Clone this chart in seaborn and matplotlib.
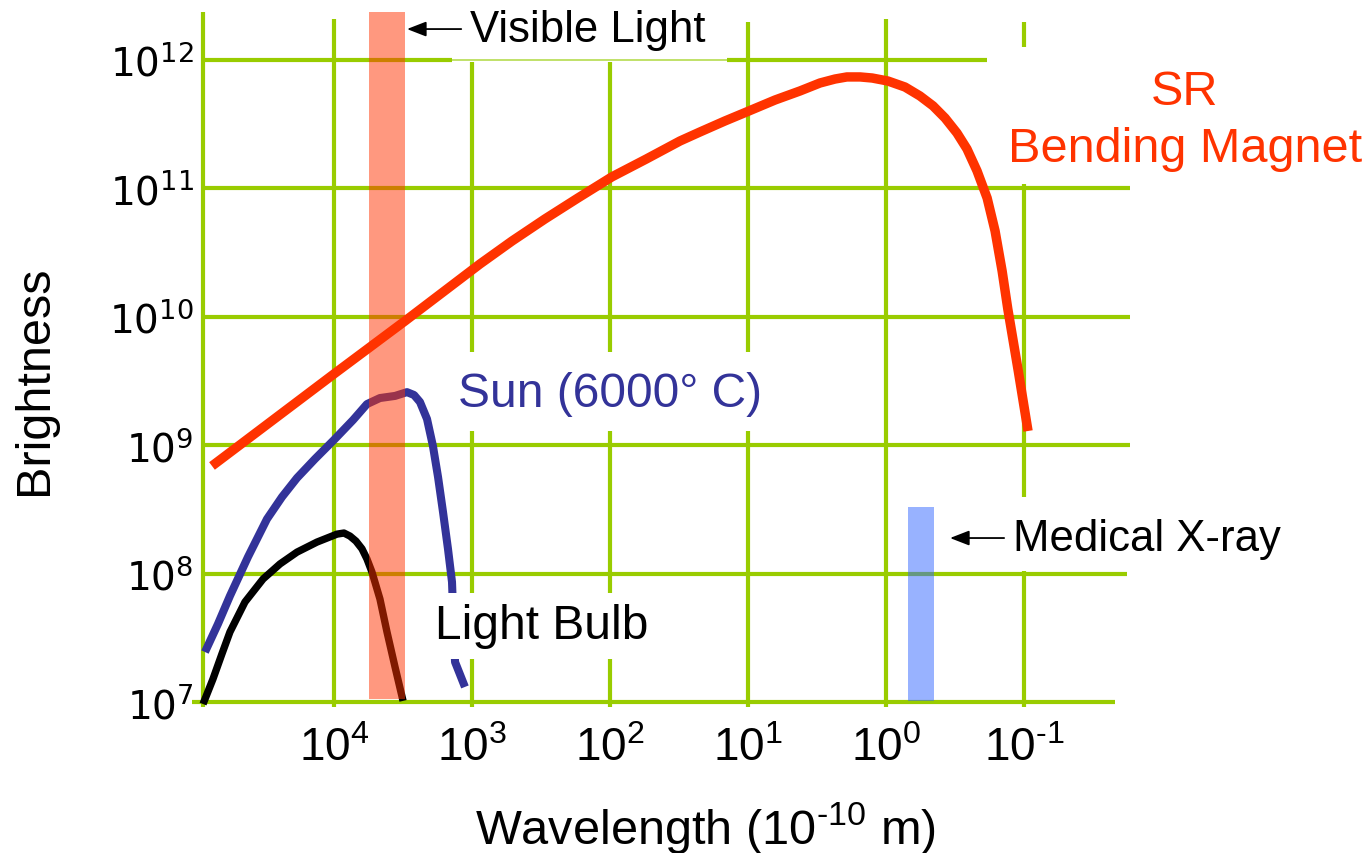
import numpy as np
import pandas as pd
import matplotlib
matplotlib.use("Agg")
import matplotlib.pyplot as plt
import seaborn as sns

# ---------------- data (wavelength in 1e-10 m, brightness) ----------------
sr_wavelength = [76560, 10000, 3061, 875, 513, 296, 171, 96.8, 54.8, 31.1, 22.3,
                 14.7, 9.84, 6.37, 4.20, 3.01, 2.34, 1.92, 1.54, 1.26, 0.968,
                 0.728, 0.568, 0.456, 0.373, 0.306, 0.259, 0.219, 0.185, 0.162,
                 0.144, 0.131, 0.110, 0.0935]
sr_brightness = [6.89e8, 3.59e9, 9.27e9, 2.58e10, 3.89e10, 5.78e10, 8.41e10,
                 1.23e11, 1.69e11, 2.34e11, 2.75e11, 3.35e11, 4.01e11, 4.88e11,
                 5.74e11, 6.62e11, 7.11e11, 7.38e11, 7.38e11, 7.24e11, 6.86e11,
                 6.16e11, 5.25e11, 4.39e11, 3.53e11, 2.70e11, 2.03e11, 1.37e11,
                 8.42e10, 4.66e10, 2.27e10, 1.15e10, 3.78e9, 1.29e9]

sun_wavelength = [86100, 69340, 56750, 41980, 30600, 23820, 18530, 13740, 10000,
                  7280, 5770, 4645, 3610, 2958, 2630, 2382, 2118, 1919, 1762,
                  1622, 1493, 1396, 1327, 1125]
sun_brightness = [2.45e7, 4.05e7, 6.70e7, 1.35e8, 2.66e8, 3.95e8, 5.56e8, 7.81e8,
                  1.10e9, 1.57e9, 2.09e9, 2.33e9, 2.42e9, 2.59e9, 2.46e9, 2.17e9,
                  1.60e9, 9.86e8, 5.65e8, 3.02e8, 1.56e8, 8.61e7, 2.05e7, 1.31e7]

bulb_wavelength = [88920, 75340, 64860, 56750, 44160, 32660, 24600, 18530, 13280,
                   9510, 8470, 7660, 6930, 6270, 5770, 5310, 4645, 4130, 3610, 3160]
bulb_brightness = [9.64e6, 1.51e7, 2.37e7, 3.51e7, 6.01e7, 9.08e7, 1.19e8, 1.47e8,
                   1.76e8, 2.03e8, 2.07e8, 1.96e8, 1.79e8, 1.56e8, 1.30e8, 1.03e8,
                   6.34e7, 3.51e7, 1.87e7, 1.02e7]

visible_band = (5570, 3060)          # wavelength range of visible-light band
visible_height = (1.05e7, 2.37e12)
xray_band = (0.693, 0.449)           # wavelength range of medical x-ray band
xray_height = (1.02e7, 3.3e8)

x_ticks = [1e4, 1e3, 1e2, 1e1, 1e0, 1e-1]
x_tick_labels = ["4", "3", "2", "1", "0", "-1"]
y_ticks = [1e7, 1e8, 1e9, 1e10, 1e11, 1e12]
y_tick_labels = ["7", "8", "9", "10", "11", "12"]

# ---------------- style ----------------
sns.set_theme(style="white")
plt.rcParams["font.family"] = ["Liberation Sans", "DejaVu Sans"]
plt.rcParams["mathtext.fontset"] = "custom"
plt.rcParams["mathtext.rm"] = "Liberation Sans"
plt.rcParams["axes.unicode_minus"] = False

GREEN = "#99CC00"
RED = "#FF3300"
BLUE = "#333399"

fig = plt.figure(figsize=(13.72, 8.54), dpi=100)
ax = fig.add_axes([0.14431, 0.16628, 0.68659, 0.83372])
ax.set_xscale("log")
ax.set_yscale("log")
ax.set_xlim(10**4.9855, 10**-1.8406)
ax.set_ylim(10**6.9299, 10**12.4751)
for s in ax.spines.values():
    s.set_visible(False)
ax.grid(False)
ax.set_facecolor("white")

# ---------------- grid (drawn as segments, like the original) ----------------
E = lambda e: 10**e
hsegs = [
    (12, 4.949, 3.145), (12, 1.152, -0.732),
    (11, 4.949, -1.768), (10, 4.949, -1.768), (9, 4.949, -1.768),
    (8, 4.949, -1.746), (7, 5.029, -1.659),
]
for yy, x0, x1 in hsegs:
    ax.hlines(E(yy), E(x0), E(x1), color=GREEN, lw=3.0, zorder=1, clip_on=False)
ax.hlines(E(12), E(3.145), E(1.152), color="#b5dc4f", lw=1.2, zorder=1)

vsegs = [
    (4.949, 12.374, 6.961), (4.0, 12.319, 6.961),
    (3.0, 11.984, 9.726), (3.0, 9.111, 6.961),
    (2.0, 11.984, 9.726), (2.0, 9.111, 6.961),
    (1.0, 12.296, 9.726), (1.0, 9.111, 6.961),
    (0.0, 12.319, 6.961),
    (-1.0, 12.296, 12.101), (-1.0, 11.034, 8.597), (-1.0, 8.020, 6.961),
]
for xx, y0, y1 in vsegs:
    ax.vlines(E(xx), E(y0), E(y1), color=GREEN, lw=3.0, zorder=1, clip_on=False)

# ---------------- curves ----------------
sr = pd.DataFrame({"wavelength": sr_wavelength, "brightness": sr_brightness})
sun = pd.DataFrame({"wavelength": sun_wavelength, "brightness": sun_brightness})
bulb = pd.DataFrame({"wavelength": bulb_wavelength, "brightness": bulb_brightness})

common = dict(sort=False, estimator=None, zorder=3, solid_capstyle="butt",
              solid_joinstyle="round")
sns.lineplot(data=sr, x="wavelength", y="brightness", ax=ax, color=RED, lw=6.8, **common)
sns.lineplot(data=sun, x="wavelength", y="brightness", ax=ax, color=BLUE, lw=5.8, **common)
sns.lineplot(data=bulb, x="wavelength", y="brightness", ax=ax, color="black", lw=5.3, **common)

# ---------------- bands ----------------
ax.fill_between(list(visible_band), visible_height[0], visible_height[1],
                color=RED, alpha=0.5, lw=0, zorder=4)
ax.fill_between(list(xray_band), xray_height[0], xray_height[1],
                color="#3366FF", alpha=0.5, lw=0, zorder=4)

# ---------------- ticks ----------------
ax.set_xticks(x_ticks)
ax.set_xticklabels([r"$\mathregular{10^{\text{%s}}}$" % t for t in x_tick_labels],
                   fontsize=33, color="black")
ax.set_yticks(y_ticks)
ax.set_yticklabels([r"$\mathregular{10^{%s}}$" % t for t in y_tick_labels],
                   fontsize=28, color="black", fontfamily="DejaVu Sans")
ax.minorticks_off()
ax.tick_params(axis="x", length=0, pad=11)
ax.tick_params(axis="y", length=0, pad=3)

ax.set_xlabel(r"Wavelength ($\mathregular{10^{\text{-10}}}$ m)", fontsize=35, color="black")
ax.set_ylabel("Brightness", fontsize=35, color="black")
ax.xaxis.set_label_coords(0.539, -0.1236)
ax.yaxis.set_label_coords(-0.1497, 0.466)

# ---------------- annotations ----------------
arrow = dict(arrowstyle="-|>,head_length=0.9,head_width=0.35", color="black",
             lw=1.3, shrinkA=4, shrinkB=0, mutation_scale=13)
ax.annotate("Visible Light", xy=(10**3.471, 10**12.241),
            xytext=(10**3.014, 10**12.241), ha="left", va="center",
            fontsize=31.5, color="black", arrowprops=arrow, zorder=6,
            annotation_clip=False)
ax.annotate("Medical X-ray", xy=(10**-0.464, 10**8.277),
            xytext=(10**-0.92, 10**8.277), ha="left", va="center",
            fontsize=31.5, color="black", arrowprops=arrow, zorder=6,
            annotation_clip=False)
ax.text(10**3.101, 10**9.399, "Sun (6000° C)", ha="left", va="center",
        fontsize=34.5, color=BLUE, zorder=6)
ax.text(10**3.268, 10**7.592, "Light Bulb", ha="left", va="center",
        fontsize=34.5, color="black", zorder=6,
        bbox=dict(boxstyle="square,pad=0.22", fc="white", ec="none"))
ax.text(10**-2.167, 10**11.533, "SR\nBending Magnet", ha="center", va="center",
        fontsize=35, color=RED, zorder=6, linespacing=1.35, clip_on=False)

fig.savefig("out.png", dpi=100, facecolor="white")
